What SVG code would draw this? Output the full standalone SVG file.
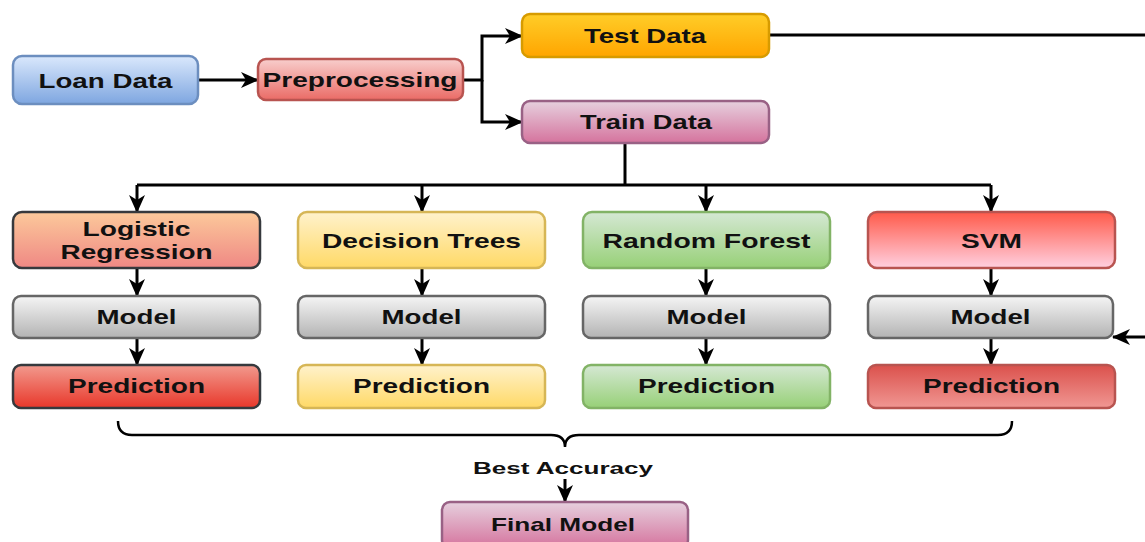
<svg xmlns="http://www.w3.org/2000/svg" width="1145" height="542" viewBox="0 0 1145 542">
<defs>
<linearGradient id="gBlue" x1="0" y1="0" x2="0" y2="1"><stop offset="0" stop-color="#dae8fc"/><stop offset="1" stop-color="#7ea6e0"/></linearGradient>
<linearGradient id="gRed" x1="0" y1="0" x2="0" y2="1"><stop offset="0" stop-color="#f8cecc"/><stop offset="1" stop-color="#ea6b66"/></linearGradient>
<linearGradient id="gOrange" x1="0" y1="0" x2="0" y2="1"><stop offset="0" stop-color="#ffcd28"/><stop offset="1" stop-color="#ffa500"/></linearGradient>
<linearGradient id="gPink" x1="0" y1="0" x2="0" y2="1"><stop offset="0" stop-color="#e6d0de"/><stop offset="1" stop-color="#d5739d"/></linearGradient>
<linearGradient id="gPeach" x1="0" y1="0" x2="0" y2="1"><stop offset="0" stop-color="#fcc99b"/><stop offset="1" stop-color="#ef8884"/></linearGradient>
<linearGradient id="gYellow" x1="0" y1="0" x2="0" y2="1"><stop offset="0" stop-color="#fff2cc"/><stop offset="1" stop-color="#ffd966"/></linearGradient>
<linearGradient id="gGreen" x1="0" y1="0" x2="0" y2="1"><stop offset="0" stop-color="#d5e8d4"/><stop offset="1" stop-color="#97d077"/></linearGradient>
<linearGradient id="gSvm" x1="0" y1="0" x2="0" y2="1"><stop offset="0" stop-color="#ff5a4a"/><stop offset="1" stop-color="#ffd0e0"/></linearGradient>
<linearGradient id="gGray" x1="0" y1="0" x2="0" y2="1"><stop offset="0" stop-color="#f5f5f5"/><stop offset="1" stop-color="#b3b3b3"/></linearGradient>
<linearGradient id="gLrPred" x1="0" y1="0" x2="0" y2="1"><stop offset="0" stop-color="#f29a8e"/><stop offset="1" stop-color="#e8372a"/></linearGradient>
<linearGradient id="gSvmPred" x1="0" y1="0" x2="0" y2="1"><stop offset="0" stop-color="#db514c"/><stop offset="1" stop-color="#f09793"/></linearGradient>
<marker id="arr" markerUnits="userSpaceOnUse" markerWidth="18" markerHeight="16" refX="17" refY="8" orient="auto">
<path d="M0,0 L18,8 L0,16 L5,8 Z" fill="#000"/>
</marker>
<style>
.box{stroke-width:2.5}
.t{font-family:"Liberation Sans",Arial,sans-serif;font-weight:bold;font-size:21px;fill:#111;text-anchor:middle}
.conn path{fill:none;stroke:#000;stroke-width:3}
</style>
</defs>
<rect width="1145" height="542" fill="#fff"/>

<g id="connectors" class="conn">
<path d="M198,80 H258" marker-end="url(#arr)"/>
<path d="M463,80 H482 V36 H522" marker-end="url(#arr)"/>
<path d="M482,80 V122 H522" marker-end="url(#arr)"/>
<path d="M769,35 H1170 V337 H1113" marker-end="url(#arr)"/>
<path d="M625,143 V185"/>
<path d="M137,185 H991"/>
<path d="M137,185 V212" marker-end="url(#arr)"/>
<path d="M422,185 V212" marker-end="url(#arr)"/>
<path d="M706,185 V212" marker-end="url(#arr)"/>
<path d="M991,185 V212" marker-end="url(#arr)"/>
<path d="M137,268 V296" marker-end="url(#arr)"/>
<path d="M422,268 V296" marker-end="url(#arr)"/>
<path d="M706,268 V296" marker-end="url(#arr)"/>
<path d="M991,268 V296" marker-end="url(#arr)"/>
<path d="M137,338 V365" marker-end="url(#arr)"/>
<path d="M422,338 V365" marker-end="url(#arr)"/>
<path d="M706,338 V365" marker-end="url(#arr)"/>
<path d="M991,338 V365" marker-end="url(#arr)"/>
<path d="M118,421 Q118,435 132,435 H551 Q565,435 565,447 Q565,435 579,435 H998 Q1012,435 1012,421" style="stroke-width:2.5"/>
<path d="M565,479 V502" marker-end="url(#arr)"/>
</g>

<g id="loan-data"><rect class="box" x="13" y="56" width="185" height="48" rx="9" fill="url(#gBlue)" stroke="#6c8ebf"/><text class="t" x="105.5" y="88" textLength="134" lengthAdjust="spacingAndGlyphs">Loan Data</text></g>
<g id="preprocessing"><rect class="box" x="258" y="59" width="205" height="41" rx="8" fill="url(#gRed)" stroke="#b85450"/><text class="t" x="360" y="87" textLength="195" lengthAdjust="spacingAndGlyphs">Preprocessing</text></g>
<g id="test-data"><rect class="box" x="522" y="14" width="247" height="43" rx="8" fill="url(#gOrange)" stroke="#d79b00"/><text class="t" x="645" y="43" textLength="122" lengthAdjust="spacingAndGlyphs">Test Data</text></g>
<g id="train-data"><rect class="box" x="522" y="101" width="247" height="42" rx="8" fill="url(#gPink)" stroke="#996185"/><text class="t" x="646" y="129" textLength="132" lengthAdjust="spacingAndGlyphs">Train Data</text></g>

<g id="logistic-regression"><rect class="box" x="13" y="212" width="247" height="56" rx="9" fill="url(#gPeach)" stroke="#36393d"/><text class="t" x="136.5" y="236" textLength="108" lengthAdjust="spacingAndGlyphs">Logistic</text><text class="t" x="136.5" y="259" textLength="152" lengthAdjust="spacingAndGlyphs">Regression</text></g>
<g id="decision-trees"><rect class="box" x="298" y="212" width="247" height="56" rx="9" fill="url(#gYellow)" stroke="#d6b656"/><text class="t" x="421.5" y="248" textLength="199" lengthAdjust="spacingAndGlyphs">Decision Trees</text></g>
<g id="random-forest"><rect class="box" x="583" y="212" width="247" height="56" rx="9" fill="url(#gGreen)" stroke="#82b366"/><text class="t" x="706.5" y="248" textLength="208" lengthAdjust="spacingAndGlyphs">Random Forest</text></g>
<g id="svm"><rect class="box" x="868" y="212" width="247" height="56" rx="9" fill="url(#gSvm)" stroke="#b85450"/><text class="t" x="991.5" y="248" textLength="61" lengthAdjust="spacingAndGlyphs">SVM</text></g>

<g id="model-lr"><rect class="box" x="13" y="296" width="247" height="42" rx="8" fill="url(#gGray)" stroke="#666666"/><text class="t" x="136.5" y="324" textLength="80" lengthAdjust="spacingAndGlyphs">Model</text></g>
<g id="model-dt"><rect class="box" x="298" y="296" width="247" height="42" rx="8" fill="url(#gGray)" stroke="#666666"/><text class="t" x="421.5" y="324" textLength="80" lengthAdjust="spacingAndGlyphs">Model</text></g>
<g id="model-rf"><rect class="box" x="583" y="296" width="247" height="42" rx="8" fill="url(#gGray)" stroke="#666666"/><text class="t" x="706.5" y="324" textLength="80" lengthAdjust="spacingAndGlyphs">Model</text></g>
<g id="model-svm"><rect class="box" x="868" y="296" width="245" height="42" rx="8" fill="url(#gGray)" stroke="#666666"/><text class="t" x="990.5" y="324" textLength="80" lengthAdjust="spacingAndGlyphs">Model</text></g>

<g id="prediction-lr"><rect class="box" x="13" y="365" width="247" height="43" rx="8" fill="url(#gLrPred)" stroke="#36393d"/><text class="t" x="136.5" y="393" textLength="137" lengthAdjust="spacingAndGlyphs">Prediction</text></g>
<g id="prediction-dt"><rect class="box" x="298" y="365" width="247" height="43" rx="8" fill="url(#gYellow)" stroke="#d6b656"/><text class="t" x="421.5" y="393" textLength="137" lengthAdjust="spacingAndGlyphs">Prediction</text></g>
<g id="prediction-rf"><rect class="box" x="583" y="365" width="247" height="43" rx="8" fill="url(#gGreen)" stroke="#82b366"/><text class="t" x="706.5" y="393" textLength="137" lengthAdjust="spacingAndGlyphs">Prediction</text></g>
<g id="prediction-svm"><rect class="box" x="868" y="365" width="247" height="43" rx="8" fill="url(#gSvmPred)" stroke="#b85450"/><text class="t" x="991.5" y="393" textLength="137" lengthAdjust="spacingAndGlyphs">Prediction</text></g>

<g id="best-accuracy"><text class="t" x="563" y="474" style="font-size:17px" textLength="180" lengthAdjust="spacingAndGlyphs">Best Accuracy</text></g>
<g id="final-model"><rect class="box" x="442" y="502" width="246" height="46" rx="8" fill="url(#gPink)" stroke="#996185"/><text class="t" x="563" y="531" style="font-size:19px" textLength="144" lengthAdjust="spacingAndGlyphs">Final Model</text></g>
</svg>
